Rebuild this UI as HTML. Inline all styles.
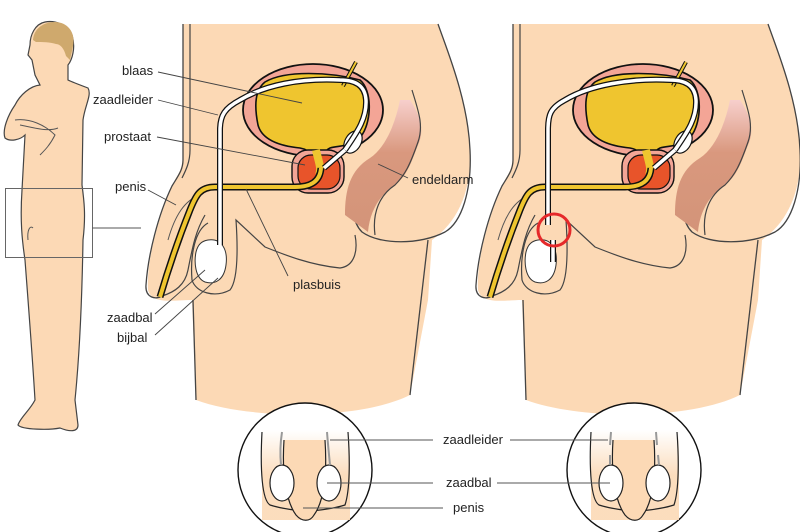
<!DOCTYPE html>
<html><head><meta charset="utf-8"><style>
html,body{margin:0;padding:0;background:#fff;}
svg{display:block;}
text{font-family:"Liberation Sans",sans-serif;font-size:13px;fill:#222;}
</style></head><body>
<svg width="800" height="532" viewBox="0 0 800 532" xmlns="http://www.w3.org/2000/svg">
<defs>
<linearGradient id="rect" x1="0" y1="0" x2="0" y2="1">
<stop offset="0" stop-color="#f7cfcc"/><stop offset="0.4" stop-color="#d9987e"/><stop offset="1" stop-color="#d39479"/>
</linearGradient>
<linearGradient id="fade" x1="0" y1="0" x2="0" y2="1">
<stop offset="0" stop-color="#fbd9b6" stop-opacity="0"/><stop offset="0.5" stop-color="#fbd9b6"/><stop offset="1" stop-color="#fbd9b6"/>
</linearGradient>
<g id="panel">
<path d="M183,24 H438 C447,50 468,100 470,150 C472,190 458,222 432,240 L428,300 L410,395 C360,420 250,420 196,400 L192,300 C175,300 152,305 148,290 C146,260 160,210 176,178 C181,170 183,165 183,150 Z" fill="#fcd9b5"/>
<path d="M183,24 V160 C183,170 178,176 172,186 C158,215 148,255 146,285 C145,298 156,300 162,296" fill="none" stroke="#444" stroke-width="1.3"/>
<path d="M190,24 V150 C190,162 186,170 182,178" fill="none" stroke="#444" stroke-width="1.2"/>
<path d="M438,24 C447,50 468,100 470,150 C472,190 462,222 445,232 C420,245 380,245 362,232 C352,222 352,205 356,195" fill="none" stroke="#444" stroke-width="1.3"/>
<path d="M428,240 L410,395" fill="none" stroke="#444" stroke-width="1.3"/>
<path d="M193,300 L196,400" fill="none" stroke="#444" stroke-width="1.3"/>
<path d="M162,296 C175,292 185,285 188,270 C192,250 195,232 205,215" fill="none" stroke="#444" stroke-width="1.2"/>
<path d="M200,195 C185,200 175,215 168,240" fill="none" stroke="#555" stroke-width="1"/>
<path d="M208,223 C195,230 190,255 192,280 C196,293 215,298 230,290 C238,280 238,250 236,220 L265,247 C285,255 310,265 340,268 C355,266 358,250 355,235" fill="none" stroke="#444" stroke-width="1.2"/>
<path d="M410,100 C420,115 425,130 418,145 C412,160 408,175 395,185 C380,195 370,210 368,232 L345,215 C345,190 350,170 370,158 C385,148 395,125 400,100 Z" fill="url(#rect)"/>
<path d="M412,90 C418,110 424,125 418,142 C410,165 405,175 395,185 C380,195 372,212 375,235" fill="none" stroke="#444" stroke-width="1.2"/>
<ellipse cx="313" cy="110" rx="70" ry="46" fill="#f3a596" stroke="#111" stroke-width="1.8"/>
<path d="M265,82 C285,70 330,72 360,80 C372,90 372,120 362,135 C350,148 340,145 330,148 C325,150 322,158 322,170 L316,170 C316,160 312,150 300,148 C280,146 262,140 258,125 C254,105 255,90 265,82 Z" fill="#efc52f" stroke="#111" stroke-width="1.6"/>
<rect x="292" y="150" width="52" height="43" rx="16" fill="#f3a596" stroke="#111" stroke-width="1.4"/>
<rect x="298" y="155" width="42" height="34" rx="13" fill="#e8542a" stroke="#111" stroke-width="1.2"/>
<path d="M316,150 C318,160 322,168 319,175" stroke="#efc52f" stroke-width="8" fill="none"/>
<line x1="356" y1="62" x2="343" y2="86" stroke="#111" stroke-width="4"/>
<line x1="356" y1="62" x2="343" y2="86" stroke="#efc52f" stroke-width="2"/>
<path d="M321,168 C320,182 310,187 295,187 L215,187 C200,187 196,195 190,210 C178,240 168,270 160,297" fill="none" stroke="#111" stroke-width="7"/>
<path d="M321,168 C320,182 310,187 295,187 L215,187 C200,187 196,195 190,210 C178,240 168,270 160,297" fill="none" stroke="#efc52f" stroke-width="4"/>
<ellipse cx="353" cy="142" rx="8" ry="12" transform="rotate(30 353 142)" fill="#fff" stroke="#111" stroke-width="1.2"/>
<path d="M208,240 C222,238 228,250 226,265 C224,280 215,285 205,282 C195,278 194,262 196,252 C198,244 202,241 208,240 Z" fill="#fff" stroke="#333" stroke-width="1"/>
</g>
</defs>

<!-- small man -->
<path d="M40,85 C30,86 20,95 15,105 C8,115 2,130 5,138 C10,142 20,140 25,135 L22,190 C20,220 22,240 25,260 C28,300 32,350 35,400 C30,410 20,418 18,425 C22,430 50,430 60,428 C70,432 78,432 78,425 L75,400 C80,350 82,300 83,240 C86,215 84,200 82,185 L83,120 C85,105 92,95 88,88 C80,85 72,82 68,80 L68,65 C72,60 76,48 72,35 C68,25 55,20 45,22 C35,24 30,35 30,45 L28,55 L32,60 L35,75 L40,85 Z" fill="#fcd9b5" stroke="#444" stroke-width="1.2"/>
<path d="M33,40 C34,28 44,22 55,22 C67,22 76,32 73,46 L70,60 L66,56 C64,48 60,44 56,44 C50,42 42,42 36,42 Z" fill="#cfa96d"/>
<path d="M15,120 C30,118 45,125 55,135 C50,145 45,150 40,155 M20,125 C35,128 48,132 58,128" fill="none" stroke="#555" stroke-width="1"/>
<path d="M28,240 C27,230 30,225 33,228" fill="none" stroke="#555" stroke-width="1"/>
<rect x="5.5" y="188.5" width="87" height="69" fill="none" stroke="#666" stroke-width="1"/>
<line x1="92" y1="228" x2="141" y2="228" stroke="#555" stroke-width="1"/>

<use href="#panel"/>
<use href="#panel" transform="translate(330,0)"/>

<path d="M345,150 C355,135 367,120 366,100 C365,85 355,80 340,80 C300,78 265,85 240,100 C225,108 220,115 220,130 L220,245" fill="none" stroke="#111" stroke-width="6"/>
<path d="M345,150 C355,135 367,120 366,100 C365,85 355,80 340,80 C300,78 265,85 240,100 C225,108 220,115 220,130 L220,245" fill="none" stroke="#fff" stroke-width="3.5"/>
<path d="M324,168 L345,150" stroke="#111" stroke-width="6"/><path d="M324,168 L345,150" stroke="#fff" stroke-width="3.5"/>
<g transform="translate(330,0)">
<path d="M345,150 C355,135 367,120 366,100 C365,85 355,80 340,80 C300,78 260,85 235,100 C220,108 218,115 218,130 L218,225" fill="none" stroke="#111" stroke-width="6"/>
<path d="M345,150 C355,135 367,120 366,100 C365,85 355,80 340,80 C300,78 260,85 235,100 C220,108 218,115 218,130 L218,225" fill="none" stroke="#fff" stroke-width="3.5"/>
<path d="M324,168 L345,150" stroke="#111" stroke-width="6"/><path d="M324,168 L345,150" stroke="#fff" stroke-width="3.5"/>
<path d="M223,240 L223,262" stroke="#111" stroke-width="6"/><path d="M223,240 L223,262" stroke="#fff" stroke-width="3.5"/>
<circle cx="224" cy="230" r="16" fill="none" stroke="#e5292a" stroke-width="3"/>
</g>

<g stroke="#444" stroke-width="0.9">
<line x1="158" y1="72" x2="302" y2="103"/>
<line x1="158" y1="100" x2="218" y2="115"/>
<line x1="157" y1="137" x2="305" y2="165"/>
<line x1="148" y1="190" x2="176" y2="205"/>
<line x1="155" y1="314" x2="205" y2="270"/>
<line x1="155" y1="335" x2="218" y2="278"/>
<line x1="288" y1="276" x2="246" y2="189"/>
<line x1="408" y1="178" x2="378" y2="164"/>
</g>
<text x="122" y="75">blaas</text>
<text x="93" y="104">zaadleider</text>
<text x="104" y="141">prostaat</text>
<text x="115" y="191">penis</text>
<text x="107" y="322">zaadbal</text>
<text x="117" y="342">bijbal</text>
<text x="293" y="289">plasbuis</text>
<text x="412" y="184">endeldarm</text>

<circle cx="305" cy="470" r="67" fill="#fff" stroke="#111" stroke-width="1.4"/>
<g>
<path d="M262,430 H350 V520 H262 Z" fill="url(#fade)" opacity="0.9"/>
<path d="M262,432 C260,470 262,500 270,505 C285,510 300,510 305,512 C315,510 330,510 345,505 C350,490 350,460 348,432" fill="none" stroke="#222" stroke-width="1.2"/>
<path d="M284,440 C282,470 285,500 296,515 C302,522 310,522 314,515 C325,500 327,470 325,440" fill="#fcd9b5" stroke="#222" stroke-width="1.2"/>
<ellipse cx="282" cy="483" rx="12" ry="18" fill="#fff" stroke="#222" stroke-width="1.2"/>
<ellipse cx="329" cy="483" rx="12" ry="18" fill="#fff" stroke="#222" stroke-width="1.2"/>
</g>
<path d="M282,432 C280,445 280,455 281,465 M327,432 C328,445 329,455 330,465" fill="none" stroke="#999" stroke-width="2"/>
<circle cx="634" cy="470" r="67" fill="#fff" stroke="#111" stroke-width="1.4"/>
<g transform="translate(329,0)">
<path d="M262,430 H350 V520 H262 Z" fill="url(#fade)" opacity="0.9"/>
<path d="M262,432 C260,470 262,500 270,505 C285,510 300,510 305,512 C315,510 330,510 345,505 C350,490 350,460 348,432" fill="none" stroke="#222" stroke-width="1.2"/>
<path d="M284,440 C282,470 285,500 296,515 C302,522 310,522 314,515 C325,500 327,470 325,440" fill="#fcd9b5" stroke="#222" stroke-width="1.2"/>
<ellipse cx="282" cy="483" rx="12" ry="18" fill="#fff" stroke="#222" stroke-width="1.2"/>
<ellipse cx="329" cy="483" rx="12" ry="18" fill="#fff" stroke="#222" stroke-width="1.2"/>
<path d="M282,432 L281,445 M281,455 L281,465 M327,432 L328,445 M329,455 L330,465" fill="none" stroke="#999" stroke-width="2"/>
</g>
<g stroke="#555" stroke-width="1">
<line x1="330" y1="440" x2="433" y2="440"/>
<line x1="510" y1="440" x2="608" y2="440"/>
<line x1="327" y1="483" x2="433" y2="483"/>
<line x1="497" y1="483" x2="610" y2="483"/>
<line x1="303" y1="508" x2="443" y2="508"/>
</g>
<text x="443" y="444">zaadleider</text>
<text x="446" y="487">zaadbal</text>
<text x="453" y="512">penis</text>
</svg>
</body></html>
